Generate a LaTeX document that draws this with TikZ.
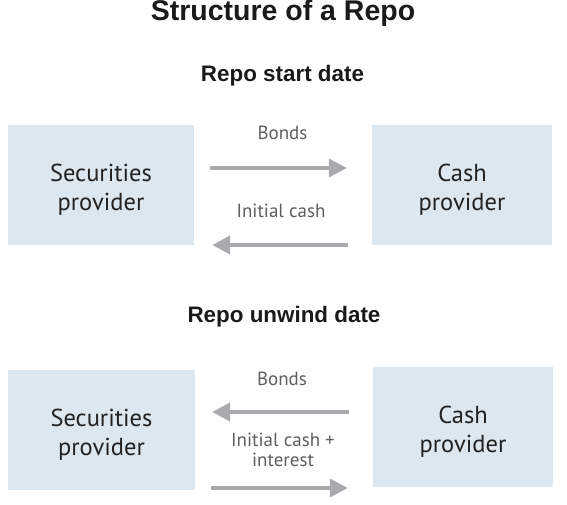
\documentclass[tikz,border=0pt]{standalone}
\usepackage{fontspec}
\setmainfont{PT Sans}
\newfontfamily\headfont{Liberation Sans}
\usetikzlibrary{arrows.meta}
\definecolor{boxfill}{HTML}{DCE7F0}
\definecolor{arrowgray}{HTML}{A8ABAE}
\definecolor{labelgray}{HTML}{5E5E5E}
\definecolor{boxtextc}{HTML}{222222}
\definecolor{headc}{HTML}{1A1A1A}
\begin{document}
\begin{tikzpicture}[x=1pt,y=-1pt,
  box/.style={fill=boxfill, draw=none, inner sep=0pt, minimum height=120pt},
  boxtext/.style={text=boxtextc, align=center, inner sep=0pt,
    font=\fontsize{24.5}{29}\selectfont},
  lbl/.style={text=labelgray, align=center, inner sep=0pt, anchor=base,
    font=\fontsize{19}{19.5}\selectfont},
  title/.style={text=headc, inner sep=0pt, anchor=base,
    font=\headfont\bfseries\fontsize{28.5}{30}\selectfont},
  subtitle/.style={text=headc, inner sep=0pt, anchor=base,
    font=\headfont\bfseries\fontsize{22.4}{24}\selectfont},
  flow/.style={draw=arrowgray, line width=4pt,
    -{Triangle[length=18pt,width=18pt]}}]
\useasboundingbox (0,0) rectangle (567,505);

% titles
\node[title] (ttl) at (283,21) {Structure of a Repo};
\node[subtitle] (st1) at (282.5,82) {Repo start date};
\node[subtitle] (st2) at (284,322) {Repo unwind date};

% boxes, start date
\node[box, minimum width=186pt] (sp1) at (101,185) {};
\node[box, minimum width=180pt] (cp1) at (462,185) {};
\node[boxtext] (sp1t) at ([yshift=-4.5pt]sp1.center) {Securities\\provider};
\node[boxtext] (cp1t) at ([yshift=-4.5pt]cp1.center) {Cash\\provider};

% boxes, unwind date
\node[box, minimum width=187pt] (sp2) at (101.5,430) {};
\node[box, minimum width=180pt] (cp2) at (463,427) {};
\node[boxtext] (sp2t) at ([yshift=-4.5pt]sp2.center) {Securities\\provider};
\node[boxtext] (cp2t) at ([yshift=-4.5pt]cp2.center) {Cash\\provider};

% arrows, start date
\draw[flow, shorten <=16pt, shorten >=25pt]
  ([yshift=17pt]sp1.east) -- ([yshift=17pt]cp1.west);
\draw[flow, shorten <=24pt, shorten >=18pt]
  ([yshift=-60pt]cp1.west) -- ([yshift=-60pt]sp1.east);
\node[lbl] (l1) at (282.5,140) {Bonds};
\node[lbl] (l2) at (281,217) {Initial cash};

% arrows, unwind date
\draw[flow, shorten <=24pt, shorten >=17pt]
  ([yshift=15pt]cp2.west) -- ([yshift=15pt]cp2.west -| sp2.east);
\draw[flow, shorten <=16pt, shorten >=25pt]
  ([yshift=-58pt]sp2.east) -- ([yshift=-58pt]sp2.east -| cp2.west);
\node[lbl] (l3) at (282,385) {Bonds};
\node[lbl] (l4) at (283,466) {Initial cash +\\interest};
\end{tikzpicture}
\end{document}
